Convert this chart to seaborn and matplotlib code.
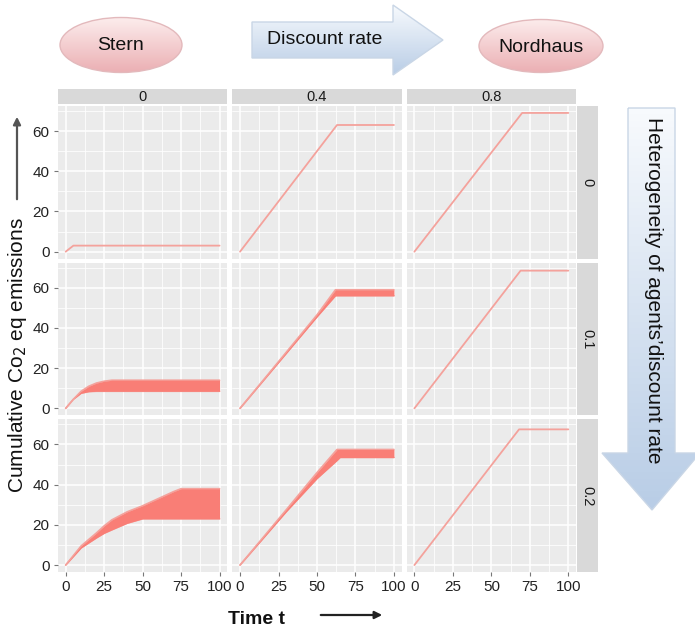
"""Cumulative CO2 eq emissions by discount rate and heterogeneity (facet grid)."""
import numpy as np
import pandas as pd
import matplotlib
matplotlib.use('Agg')
import matplotlib.pyplot as plt
import seaborn as sns
from matplotlib.patches import Ellipse, Polygon, Rectangle

# Facet categories
disc_rates = ["0", "0.4", "0.8"]
heterogeneity = ["0", "0.1", "0.2"]

# Panel data: time knots, lower and upper bound of the simulated runs
# heterogeneity 0
t_h0_d0 = [0, 5, 100]
lo_h0_d0 = [0, 3, 3]
hi_h0_d0 = [0, 3, 3]
t_h0_d4 = [0, 63, 100]
lo_h0_d4 = [0, 63, 63]
hi_h0_d4 = [0, 63, 63]
t_h0_d8 = [0, 70, 100]
lo_h0_d8 = [0, 69, 69]
hi_h0_d8 = [0, 69, 69]
# heterogeneity 0.1
t_h1_d0 = [0, 5, 10, 15, 20, 25, 30, 100]
lo_h1_d0 = [0, 4.5, 7.5, 8.3, 8.5, 8.5, 8.5, 8.5]
hi_h1_d0 = [0, 4.5, 8.5, 11, 12.6, 13.5, 14, 14]
t_h1_d4 = [0, 50, 62, 100]
lo_h1_d4 = [0, 45.5, 56, 56]
hi_h1_d4 = [0, 46.5, 59, 59]
t_h1_d8 = [0, 69, 100]
lo_h1_d8 = [0, 68.5, 68.5]
hi_h1_d8 = [0, 68.5, 68.5]
# heterogeneity 0.2
t_h2_d0 = [0, 10, 20, 25, 30, 40, 50, 60, 70, 75, 100]
lo_h2_d0 = [0, 8.5, 13.5, 15.8, 17.5, 20.8, 23, 23, 23, 23, 23]
hi_h2_d0 = [0, 9.5, 16, 19.5, 22.5, 26.5, 29.5, 33, 36.5, 38, 38]
t_h2_d4 = [0, 30, 50, 63, 65, 100]
lo_h2_d4 = [0, 26.5, 43, 52, 53.5, 53.5]
hi_h2_d4 = [0, 27.5, 46, 57.5, 57.5, 57.5]
t_h2_d8 = [0, 68, 100]
lo_h2_d8 = [0, 67.5, 67.5]
hi_h2_d8 = [0, 67.5, 67.5]

panels = {
    ("0", "0"): (t_h0_d0, lo_h0_d0, hi_h0_d0),
    ("0", "0.4"): (t_h0_d4, lo_h0_d4, hi_h0_d4),
    ("0", "0.8"): (t_h0_d8, lo_h0_d8, hi_h0_d8),
    ("0.1", "0"): (t_h1_d0, lo_h1_d0, hi_h1_d0),
    ("0.1", "0.4"): (t_h1_d4, lo_h1_d4, hi_h1_d4),
    ("0.1", "0.8"): (t_h1_d8, lo_h1_d8, hi_h1_d8),
    ("0.2", "0"): (t_h2_d0, lo_h2_d0, hi_h2_d0),
    ("0.2", "0.4"): (t_h2_d4, lo_h2_d4, hi_h2_d4),
    ("0.2", "0.8"): (t_h2_d8, lo_h2_d8, hi_h2_d8),
}

rows = []
for (het, disc), (ts, los, his) in panels.items():
    for t, lo, hi in zip(ts, los, his):
        rows.append({"het": het, "disc": disc, "t": t, "lo": lo, "hi": hi})
df = pd.DataFrame(rows)

sns.set_theme(style="darkgrid", rc={
    "axes.facecolor": "#EBEBEB",
    "grid.color": "white",
    "figure.facecolor": "white",
})
plt.rcParams['font.family'] = ['Liberation Sans', 'DejaVu Sans']

LINE = "#F4A29C"
FILL = "#F97E76"


def draw_panel(data, **kws):
    ax = plt.gca()
    if (data["hi"] - data["lo"]).abs().max() < 1e-9:
        sns.lineplot(data=data, x="t", y="hi", color=LINE, lw=1.3, ax=ax)
    else:
        ax.plot(data["t"], data["hi"], color=LINE, lw=1.2, zorder=3)
        ax.plot(data["t"], data["lo"], color=LINE, lw=1.2, zorder=3)
        ax.fill_between(data["t"], data["lo"], data["hi"], color=FILL,
                        lw=0, zorder=4)


g = sns.FacetGrid(df, row="het", col="disc", row_order=heterogeneity,
                  col_order=disc_rates, sharex=True, sharey=True,
                  height=2.0, aspect=1.1)
g.map_dataframe(draw_panel)
g.set_titles("")
g.set_axis_labels("", "")

fig = g.figure
fig.set_size_inches(6.95, 6.31)
fig.subplots_adjust(left=58 / 695, right=576 / 695, top=1 - 106 / 631,
                    bottom=1 - 572 / 631, wspace=0.03, hspace=0.027)

for i, het in enumerate(heterogeneity):
    for j, disc in enumerate(disc_rates):
        ax = g.axes[i, j]
        ax.set_xlim(-5, 105)
        ax.set_ylim(-3.45, 72.45)
        ax.set_xticks([0, 25, 50, 75, 100])
        ax.set_xticks([12.5, 37.5, 62.5, 87.5], minor=True)
        ax.set_yticks([0, 20, 40, 60])
        ax.set_yticks([10, 30, 50, 70], minor=True)
        ax.grid(which='major', color='white', lw=1.1)
        ax.grid(which='minor', color='white', lw=0.55)
        ax.set_axisbelow(True)
        for sp in ax.spines.values():
            sp.set_visible(False)
        ax.tick_params(which='major', bottom=(i == 2), left=(j == 0),
                       length=3, width=0.8, color='#777777', pad=3,
                       labelsize=11, labelcolor='#222222')
        ax.tick_params(which='minor', length=0)
        ax.set_xlabel("")
        ax.set_ylabel("")
        if i == 0:
            ax.add_patch(Rectangle((0, 1 + 2 / 153), 1, 15 / 153,
                                   transform=ax.transAxes, clip_on=False,
                                   facecolor='#D9D9D9', lw=0))
            ax.text(0.5, 1 + 9.5 / 153, disc, transform=ax.transAxes,
                    ha='center', va='center', fontsize=10.5, color='#1A1A1A')
        if j == 2:
            ax.add_patch(Rectangle((1 + 1 / 169, 0), 21 / 169, 1,
                                   transform=ax.transAxes, clip_on=False,
                                   facecolor='#D9D9D9', lw=0))
            ax.text(1 + 11.5 / 169, 0.5, het, transform=ax.transAxes,
                    ha='center', va='center', fontsize=10.5, color='#1A1A1A',
                    rotation=-90)

# Overlay in pixel coordinates for the annotations
ov = fig.add_axes([0, 0, 1, 1], zorder=5)
ov.patch.set_visible(False)
ov.axis('off')


def gradient_patch(patch, top, bottom, x0, x1, y0, y1):
    ov.add_patch(patch)
    cmap = matplotlib.colors.LinearSegmentedColormap.from_list("g", [top, bottom])
    grad = np.linspace(0, 1, 64).reshape(-1, 1)
    im = ov.imshow(grad, cmap=cmap, extent=(x0, x1, y1, y0), origin='upper',
                   aspect='auto', zorder=patch.get_zorder() - 0.1)
    im.set_clip_path(patch)


pink_top, pink_bot, pink_edge = "#FCECEC", "#EBAFB3", "#E3B9BC"
blue_top, blue_bot, blue_edge = "#F7FAFD", "#B9CDE6", "#C9D6E6"

stern = Ellipse((121, 45), 122, 55, facecolor='none', edgecolor=pink_edge, lw=1)
gradient_patch(stern, pink_top, pink_bot, 60, 182, 18, 73)
ov.text(121, 46, "Stern", ha='center', va='center', fontsize=14, color='#111111')

nord = Ellipse((541, 46), 124, 53, facecolor='none', edgecolor=pink_edge, lw=1)
gradient_patch(nord, pink_top, pink_bot, 479, 603, 19, 73)
ov.text(541, 47, "Nordhaus", ha='center', va='center', fontsize=14, color='#111111')

arr_h = Polygon([(252, 22), (393, 22), (393, 5), (443, 40), (393, 75),
                 (393, 58), (252, 58)], closed=True, facecolor='none',
                edgecolor=blue_edge, lw=1)
gradient_patch(arr_h, blue_top, blue_bot, 252, 443, 5, 75)
ov.text(325, 39, "Discount rate", ha='center', va='center', fontsize=14,
        color='#111111')

arr_v = Polygon([(628, 108), (675, 108), (675, 453), (700, 453), (652, 510),
                 (602, 453), (628, 453)], closed=True, facecolor='none',
                edgecolor=blue_edge, lw=1)
gradient_patch(arr_v, blue_top, blue_bot, 602, 700, 108, 510)
ov.text(653, 290, "Heterogeneity of agents\u2019discount rate", ha='center',
        va='center', fontsize=15, color='#111111', rotation=-90)

ov.text(18, 355, "Cumulative Co$_2$ eq emissions", ha='center', va='center',
        fontsize=15, color='#111111', rotation=90)
ov.annotate("", xy=(17, 114), xytext=(17, 202),
            arrowprops=dict(arrowstyle='-|>', color='#555555', lw=1.6,
                            mutation_scale=11))

ov.text(256, 619, "Time t", ha='center', va='center', fontsize=14,
        fontweight='bold', color='#111111')
ov.annotate("", xy=(385, 615), xytext=(318, 615),
            arrowprops=dict(arrowstyle='-|>', color='#222222', lw=1.6,
                            mutation_scale=11))

ov.set_xlim(0, 695)
ov.set_ylim(631, 0)

fig.savefig("out.png", dpi=100)
plt.close(fig)
